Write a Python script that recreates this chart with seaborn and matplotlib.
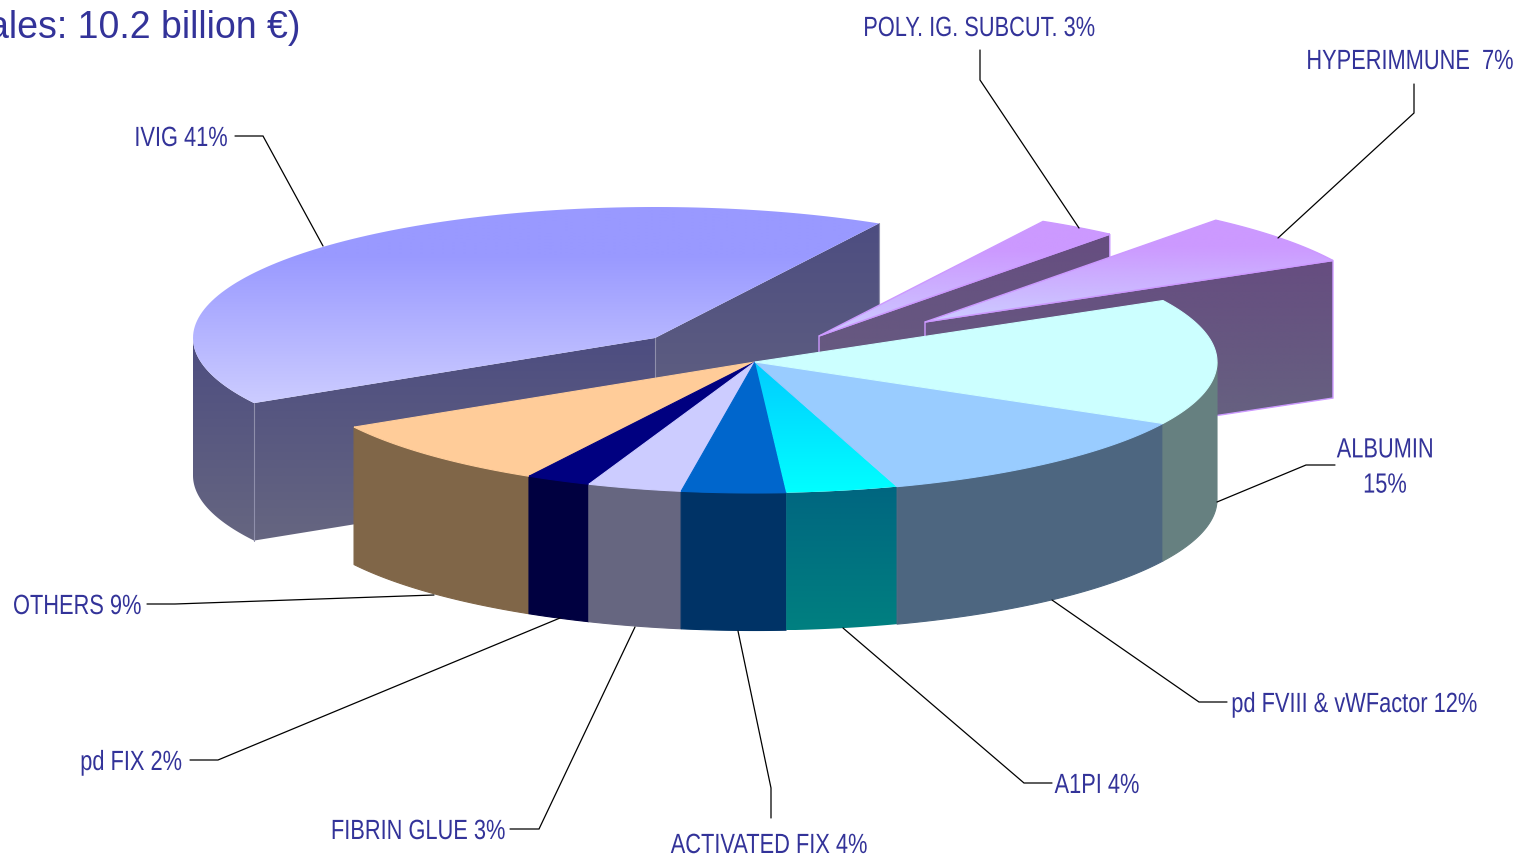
import numpy as np
import matplotlib
matplotlib.use("Agg")
import matplotlib.pyplot as plt
from matplotlib.colors import to_rgb
from matplotlib.patches import Polygon
from matplotlib.patheffects import AbstractPathEffect
from matplotlib.text import Text
from matplotlib.transforms import Affine2D, Bbox
import seaborn as sns

# ---- data -----------------------------------------------------------------
names = ["IVIG", "OTHERS", "pd FIX", "FIBRIN GLUE", "ACTIVATED FIX", "A1PI",
         "pd FVIII & vWFactor", "ALBUMIN", "HYPERIMMUNE", "POLY. IG. SUBCUT."]
shares = [41.33, 8.59, 2.28, 3.3, 3.63, 3.9, 12.25, 15.55, 6.39, 2.78]
label_texts = ["IVIG 41%", "OTHERS 9%", "pd FIX 2%", "FIBRIN GLUE 3%", "ACTIVATED FIX 4%",
               "A1PI 4%", "pd FVIII & vWFactor 12%", "ALBUMIN\n15%", "HYPERIMMUNE  7%",
               "POLY. IG. SUBCUT. 3%"]
top_start = ["#9999ff", "#ffcc99", "#000080", "#ccccff", "#0066cc", "#00ccff",
             "#99ccff", "#ccffff", "#cc99ff", "#cc99ff"]
top_end = ["#ccccff", "#ffcc99", "#000080", "#ccccff", "#0066cc", "#00ffff",
           "#99ccff", "#ccffff", "#ccccff", "#ccccff"]
side_start = ["#4d4d80", "#806648", "#000040", "#666680", "#003366", "#006680",
              "#4d6680", "#668080", "#664d80", "#664d80"]
side_end = ["#666680", "#806648", "#000040", "#666680", "#003366", "#008080",
            "#4d6680", "#668080", "#666680", "#666680"]
explode_x = [-100, 0, 0, 0, 0, 0, 0, 0, 170, 64]
explode_y = [-24, 0, 0, 0, 0, 0, 0, 0, -40, -26]
title_text = "ales: 10.2 billion €)"

# ---- layout ---------------------------------------------------------------
CX, CY, RX, RY, DEPTH = 755, 362, 462, 131, 137.5
START_ANGLE = 61.0
TEXT_COLOR = "#333399"
CONDENSE = 0.785
label_xy = [(181, 139), (13, 607), (131, 763), (418, 832), (769, 846),
            (1097, 786), (1354, 705), (1385, 468), (1513, 62), (979, 29)]
label_ha = ["center", "left", "center", "center", "center",
            "center", "center", "center", "right", "center"]
leaders = [[(235, 136), (263, 136), (323, 246)],
           [(147, 604), (175, 604), (434, 595)],
           [(190, 760), (218, 760), (560, 618)],
           [(510, 829), (539, 829), (635, 627)],
           [(771, 818), (771, 788), (738, 631)],
           [(1052, 783), (1024, 783), (843, 628)],
           [(1227, 702), (1199, 702), (1052, 600)],
           [(1335, 465), (1306, 465), (1217, 502)],
           [(1414, 84), (1414, 113), (1278, 238)],
           [(980, 50), (980, 80), (1079, 228)]]

sns.set_theme(style="white")
plt.rcParams["font.family"] = ["Liberation Sans", "DejaVu Sans"]

fig = plt.figure(figsize=(15.19, 8.55), dpi=100, facecolor="white")
ax = fig.add_axes([0, 0, 1, 1])
ax.set_xlim(0, 1519)
ax.set_ylim(855, 0)
ax.axis("off")


class Condense(AbstractPathEffect):
    """Squeeze glyph outlines horizontally around a fixed display x."""

    def __init__(self, sx, x0):
        super().__init__()
        self.sx, self.x0 = sx, x0

    def draw_path(self, renderer, gc, tpath, affine, rgbFace=None):
        squeeze = Affine2D().translate(-self.x0, 0).scale(self.sx, 1).translate(self.x0, 0)
        renderer.draw_path(gc, tpath, affine + squeeze, rgbFace)


class CondensedText(Text):
    """Text drawn narrow about its anchor, reporting its narrow extent."""

    def __init__(self, x, y, s, sx, ha, **kw):
        super().__init__(x, y, s, ha=ha, va="center", **kw)
        self.sx, self.anchor = sx, x

    def get_window_extent(self, renderer=None, dpi=None):
        bb = super().get_window_extent(renderer, dpi)
        a = self.anchor
        return Bbox([[a + (bb.x0 - a) * self.sx, bb.y0], [a + (bb.x1 - a) * self.sx, bb.y1]])


def shade(poly, c0, c1, hold=0.0, zorder=1, edge=None):
    """Fill a polygon with a vertical colour ramp clipped to its outline."""
    poly = np.asarray(poly)
    lo, hi = poly[:, 1].min(), poly[:, 1].max()
    x0, x1 = poly[:, 0].min(), poly[:, 0].max()
    if c0 == c1:
        ax.add_patch(Polygon(poly, closed=True, facecolor=c1, edgecolor=edge or c1,
                             linewidth=0.8, zorder=zorder))
        return
    t = np.clip((np.linspace(0, 1, 256) - hold) / (1 - hold), 0, 1)[:, None, None]
    ramp = (1 - t) * np.array(to_rgb(c0))[None, None, :] + t * np.array(to_rgb(c1))[None, None, :]
    im = ax.imshow(ramp, extent=(x0, x1, hi, lo), aspect="auto", zorder=zorder,
                   interpolation="bilinear")
    im.set_clip_path(Polygon(poly, closed=True, transform=ax.transData))
    if edge:
        ax.add_patch(Polygon(poly, closed=True, facecolor="none", edgecolor=edge,
                             linewidth=1.0, zorder=zorder + 0.1))
    ax.set_xlim(0, 1519)
    ax.set_ylim(855, 0)


def arc(cx, cy, a0, a1):
    th = np.radians(np.linspace(a0, a1, 120))
    return np.column_stack([cx + RX * np.cos(th), cy - RY * np.sin(th)])


# wedge angles run counter-clockwise from the share values
total = float(np.sum(shares))
spans = np.array(shares) / total * 360
starts = START_ANGLE + np.concatenate([[0], np.cumsum(spans)[:-1]])
ends = starts + spans


def draw_exploded(i, z):
    cx, cy = CX + explode_x[i], CY + explode_y[i]
    a0, a1 = starts[i] % 360, ends[i] % 360
    if a1 < a0:
        a1 += 360
    rim = arc(cx, cy, a0, a1)
    top = np.vstack([[cx, cy], rim])
    edge = "#cc99ff" if top_start[i] == "#cc99ff" else None
    down = np.array([0, DEPTH])
    walls = []
    if np.sin(np.radians(a0 - 90)) < 0:   # clockwise radial face looks at the viewer
        walls.append(np.array([[cx, cy], rim[0], rim[0] + down, [cx, cy + DEPTH]]))
    if np.sin(np.radians(a1 + 90)) < 0:   # counter-clockwise radial face
        walls.append(np.array([[cx, cy], rim[-1], rim[-1] + down, [cx, cy + DEPTH]]))
    lo, hi = max(a0, 180), min(a1, 360)
    if hi > lo:                           # outer wall, front part only
        o = arc(cx, cy, lo, hi)
        walls.append(np.vstack([o, (o + down)[::-1]]))
    for w in walls:
        shade(w, side_start[i], side_end[i], zorder=z, edge=edge)
    if edge is None:                      # pale seams on the wedge's corners
        for p in (np.array([cx, cy]), rim[0], rim[-1]):
            ax.plot([p[0], p[0]], [p[1], p[1] + DEPTH], color="#8f8fab", lw=0.8, zorder=z + 0.5)
    shade(top, top_start[i], top_end[i], hold=0.25, zorder=z + 1, edge=edge)


for z, i in zip((2, 5, 8), (0, 9, 8)):
    draw_exploded(i, z)

# main body: all remaining wedges sit on the common centre
for i in range(1, 8):
    lo, hi = max(starts[i], 180), min(ends[i], 360)
    if hi > lo:
        o = arc(CX, CY, lo, hi)
        wall = np.vstack([o, (o + [0, DEPTH])[::-1]])
        shade(wall, side_start[i], side_end[i], zorder=11)
for i in range(1, 8):
    top = np.vstack([[CX, CY], arc(CX, CY, starts[i], ends[i])])
    shade(top, top_start[i], top_end[i], zorder=13)

# leaders and labels
for pts in leaders:
    xs, ys = zip(*pts)
    ax.plot(xs, ys, color="black", lw=0.9, zorder=20, solid_joinstyle="miter")
for txt, (x, y), ha in zip(label_texts, label_xy, label_ha):
    t = CondensedText(x, y, txt, CONDENSE, ha, color=TEXT_COLOR, fontsize=20,
                      linespacing=1.46, zorder=21)
    t.set_path_effects([Condense(CONDENSE, x)])
    ax.add_artist(t)
ax.text(300, 28, title_text, ha="right", va="center", color=TEXT_COLOR, fontsize=27,
        family=["Liberation Sans", "DejaVu Sans"], zorder=21)

fig.savefig("out.png", dpi=100, facecolor="white")
